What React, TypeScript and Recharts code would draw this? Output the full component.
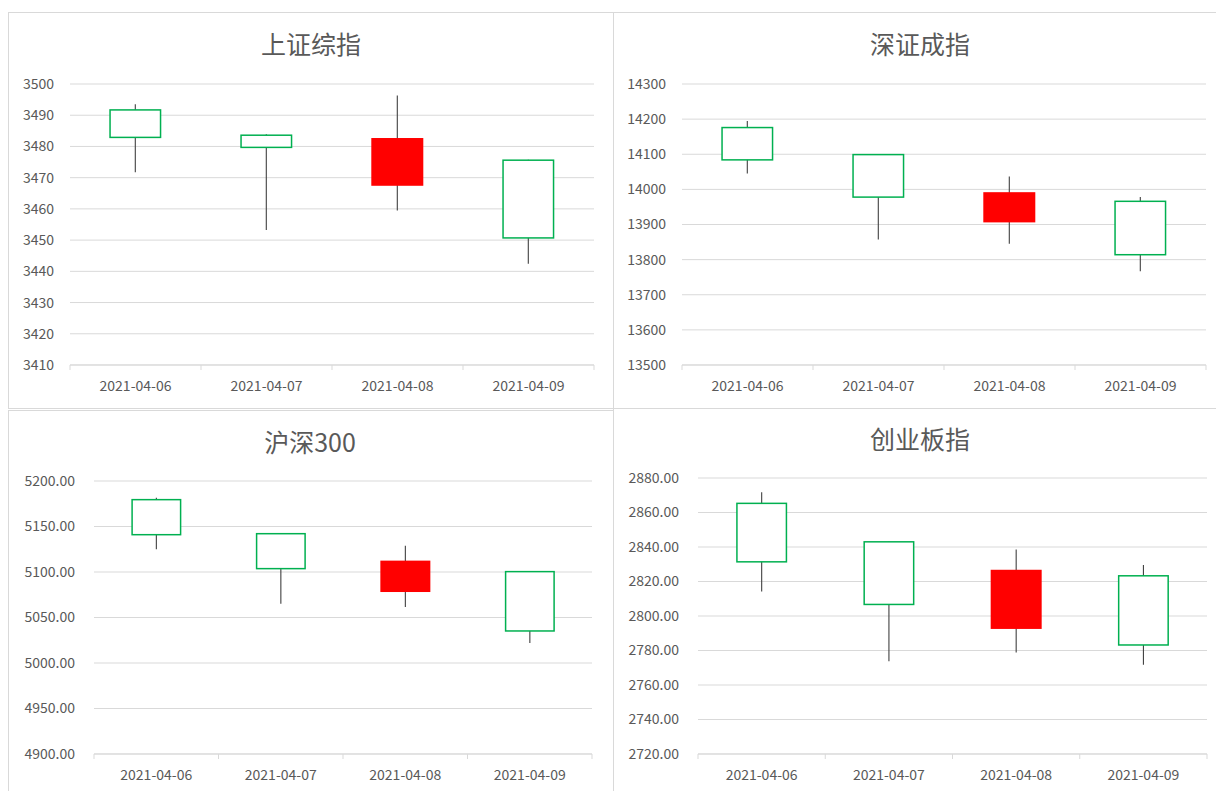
import React from 'react';
import { ComposedChart, Bar, XAxis, YAxis, CartesianGrid } from 'recharts';

const FONT = '"Noto Sans CJK SC", "Noto Sans", sans-serif';
const TEXT = '#595959';
const GRID = '#d9d9d9';

const dates = ['2021-04-06', '2021-04-07', '2021-04-08', '2021-04-09'];

// [open, high, low, close]
const shOhlc = [
  [3491.7, 3493.5, 3471.7, 3482.9],
  [3483.6, 3483.9, 3453.2, 3479.7],
  [3467.4, 3496.3, 3459.5, 3482.7],
  [3475.6, 3475.7, 3442.4, 3450.7],
];
const szOhlc = [
  [14176, 14195, 14045, 14084],
  [14099, 14100, 13857, 13978],
  [13906, 14037, 13845, 13992],
  [13966, 13978, 13767, 13814],
];
const hs300Ohlc = [
  [5179.5, 5181.7, 5124.9, 5141.0],
  [5142.1, 5142.3, 5065.2, 5103.7],
  [5078.0, 5128.9, 5061.5, 5112.5],
  [5100.4, 5100.6, 5022.0, 5035.2],
];
const cybOhlc = [
  [2865.3, 2871.7, 2814.2, 2831.4],
  [2843.0, 2843.2, 2773.7, 2806.7],
  [2792.5, 2838.6, 2778.8, 2826.8],
  [2823.3, 2829.5, 2771.8, 2783.2],
];

const shTicks = [3410, 3420, 3430, 3440, 3450, 3460, 3470, 3480, 3490, 3500];
const szTicks = [13500, 13600, 13700, 13800, 13900, 14000, 14100, 14200, 14300];
const hs300Ticks = [4900, 4950, 5000, 5050, 5100, 5150, 5200];
const cybTicks = [2720, 2740, 2760, 2780, 2800, 2820, 2840, 2860, 2880];

const toRows = (ohlc: number[][]) =>
  dates.map((d, i) => ({ date: d, open: ohlc[i][0], high: ohlc[i][1], low: ohlc[i][2], close: ohlc[i][3] }));

const Candle = (props: any) => {
  const { x, width, payload } = props;
  const h = Math.abs(props.height);
  const y = props.height < 0 ? props.y + props.height : props.y;
  const { open, high, low, close } = payload;
  const k = high - low > 0 ? h / (high - low) : 0;
  const top = y + (high - Math.max(open, close)) * k;
  const bot = y + (high - Math.min(open, close)) * k;
  const cx = x + width / 2;
  const up = close > open;
  return (
    <g>
      <line x1={cx} x2={cx} y1={y} y2={y + h} stroke="#404040" strokeWidth={1.1} />
      {up ? (
        <rect x={x} y={top} width={width} height={bot - top} fill="#ff0000" />
      ) : (
        <rect x={x + 0.75} y={top} width={width - 1.5} height={bot - top} fill="#ffffff" stroke="#00b050" strokeWidth={1.5} />
      )}
    </g>
  );
};

const DateTick = (props: any) => {
  const { x, y, payload, index, band } = props;
  const axisY = y - 8;
  return (
    <g>
      <line x1={x - band / 2} x2={x - band / 2} y1={axisY} y2={axisY + 5} stroke={GRID} />
      {index === dates.length - 1 && (
        <line x1={x + band / 2} x2={x + band / 2} y1={axisY} y2={axisY + 5} stroke={GRID} />
      )}
      <text x={x} y={axisY + 26} textAnchor="middle" fill={TEXT} fontSize={14} fontFamily={FONT}>
        {payload.value}
      </text>
    </g>
  );
};

const panels = [
  {
    title: '上证综指', rows: toRows(shOhlc), ticks: shTicks, fmt: (v: number) => String(v),
    left: 9, top: 12, w: 604, h: 397, yWidth: 50, gap: 16,
    margin: { top: 72, right: 19, left: 11, bottom: 14 }, titleX: 311, titleY: 43,
  },
  {
    title: '深证成指', rows: toRows(szOhlc), ticks: szTicks, fmt: (v: number) => String(v),
    left: 613, top: 12, w: 603, h: 397, yWidth: 58, gap: 16,
    margin: { top: 72, right: 10, left: 11, bottom: 14 }, titleX: 920, titleY: 43,
  },
  {
    title: '沪深300', rows: toRows(hs300Ohlc), ticks: hs300Ticks, fmt: (v: number) => v.toFixed(2),
    left: 9, top: 410, w: 604, h: 381, yWidth: 74, gap: 19,
    margin: { top: 71, right: 21, left: 11, bottom: 7 }, titleX: 310, titleY: 441,
  },
  {
    title: '创业板指', rows: toRows(cybOhlc), ticks: cybTicks, fmt: (v: number) => v.toFixed(2),
    left: 613, top: 409, w: 603, h: 382, yWidth: 74, gap: 19,
    margin: { top: 69, right: 9, left: 11, bottom: 7 }, titleX: 920, titleY: 438,
  },
];

const borders = [
  { left: 8, top: 12, width: 606, height: 397 },
  { left: 613, top: 12, width: 620, height: 397 },
  { left: 8, top: 410, width: 606, height: 400 },
  { left: 613, top: 408, width: 620, height: 400 },
];

export default function App() {
  return (
    <div style={{ position: 'absolute', left: 0, top: 0, width: 1216, height: 791, background: '#fff', overflow: 'hidden' }}>
      {borders.map((b, i) => (
        <div
          key={i}
          style={{ position: 'absolute', ...b, boxSizing: 'border-box', border: `1px solid ${GRID}` }}
        />
      ))}
      {panels.map((p) => {
        const plotW = p.w - p.margin.left - p.margin.right - p.yWidth;
        const band = plotW / dates.length;
        return (
          <React.Fragment key={p.title}>
            <div style={{ position: 'absolute', left: p.left, top: p.top }}>
              <ComposedChart width={p.w} height={p.h} data={p.rows} margin={p.margin} barCategoryGap="30%">
                <CartesianGrid vertical={false} stroke={GRID} />
                <XAxis
                  dataKey="date"
                  axisLine={{ stroke: GRID }}
                  tickLine={false}
                  tickSize={6}
                  tickMargin={2}
                  height={30}
                  interval={0}
                  tick={(tp: any) => <DateTick {...tp} band={band} />}
                />
                <YAxis
                  domain={[p.ticks[0], p.ticks[p.ticks.length - 1]]}
                  ticks={p.ticks}
                  interval={0}
                  allowDataOverflow
                  width={p.yWidth}
                  axisLine={false}
                  tickLine={false}
                  tickSize={8}
                  tickMargin={p.gap - 8}
                  tickFormatter={p.fmt}
                  tick={{ fill: TEXT, fontSize: 14, fontFamily: FONT }}
                />
                <Bar
                  dataKey={(d: any) => [d.low, d.high]}
                  shape={(sp: any) => <Candle {...sp} />}
                  isAnimationActive={false}
                />
              </ComposedChart>
            </div>
            <div
              style={{
                position: 'absolute',
                left: p.titleX - 150,
                width: 300,
                top: p.titleY - 16,
                height: 32,
                lineHeight: '32px',
                textAlign: 'center',
                fontFamily: FONT,
                fontSize: 25,
                color: TEXT,
              }}
            >
              {p.title}
            </div>
          </React.Fragment>
        );
      })}
    </div>
  );
}
